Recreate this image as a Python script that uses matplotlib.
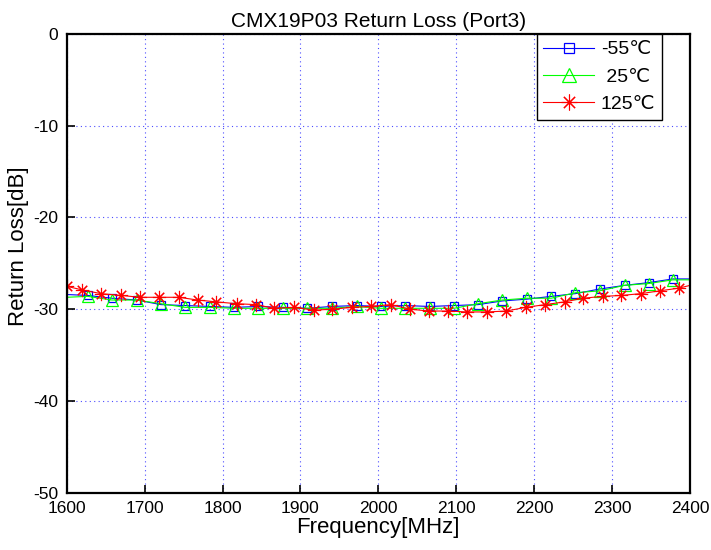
import matplotlib
matplotlib.use("Agg")
import matplotlib.pyplot as plt

plt.rcParams['font.family'] = ['Liberation Sans', 'DejaVu Sans']
plt.rcParams['axes.unicode_minus'] = False

title = "CMX19P03 Return Loss (Port3)"
xlabel = "Frequency[MHz]"
ylabel = "Return Loss[dB]"
legend_labels = ["-55\u2103", " 25\u2103", "125\u2103"]

# -55 C series (blue)
blue_freq = [1600, 1627, 1658, 1690, 1721, 1752, 1784, 1815, 1846, 1878, 1909, 1940,
             1972, 2003, 2034, 2066, 2097, 2128, 2159, 2191, 2222, 2253, 2284, 2316,
             2347, 2378, 2400]
blue_db = [-28.4, -28.5, -28.8, -29.0, -29.5, -29.6, -29.7, -29.8, -29.7, -29.8, -29.9, -29.7,
           -29.6, -29.7, -29.6, -29.7, -29.6, -29.5, -29.1, -28.9, -28.6, -28.3, -27.8, -27.4,
           -27.1, -26.7, -26.7]

# 25 C series (green)
green_freq = [1600, 1627, 1658, 1690, 1721, 1752, 1784, 1815, 1846, 1878, 1909, 1940,
              1972, 2003, 2034, 2066, 2097, 2128, 2159, 2191, 2222, 2253, 2284, 2316,
              2347, 2378, 2400]
green_db = [-28.7, -28.6, -29.0, -29.0, -29.4, -29.8, -29.8, -29.9, -29.9, -29.9, -29.9, -29.9,
            -29.7, -29.9, -29.9, -29.9, -29.9, -29.4, -29.0, -28.8, -28.8, -28.2, -28.0, -27.4,
            -27.2, -26.8, -26.8]

# 125 C series (red)
red_freq = [1600, 1620, 1644, 1670, 1694, 1719, 1744, 1768, 1792, 1818, 1843, 1866, 1892,
            1917, 1941, 1966, 1990, 2016, 2041, 2065, 2089, 2114, 2139, 2164, 2189, 2214,
            2239, 2263, 2288, 2312, 2337, 2361, 2386, 2400]
red_db = [-27.5, -27.9, -28.3, -28.5, -28.7, -28.7, -28.7, -29.0, -29.2, -29.4, -29.5, -29.9, -29.8,
          -30.1, -30.0, -29.8, -29.7, -29.5, -30.0, -30.2, -30.2, -30.3, -30.3, -30.2, -29.8, -29.5,
          -29.2, -28.8, -28.6, -28.5, -28.3, -28.0, -27.7, -27.4]

xticks = [1600, 1700, 1800, 1900, 2000, 2100, 2200, 2300, 2400]
yticks = [0, -10, -20, -30, -40, -50]

fig = plt.figure(figsize=(7.11, 5.5), dpi=100)
ax = fig.add_axes([0.0938, 0.1042, 0.8767, 0.8340])

ax.plot(blue_freq, blue_db, color=(0, 0, 1), lw=0.8, marker='s', ms=6,
        mfc='none', mew=0.9, markevery=slice(1, -1), label=legend_labels[0])
ax.plot(green_freq, green_db, color=(0, 1, 0), lw=0.8, marker='^', ms=8.5,
        mfc='none', mew=0.9, markevery=slice(1, -1), label=legend_labels[1])
ax.plot(red_freq, red_db, color=(1, 0, 0), lw=0.8, marker=(8, 2, 0), ms=9.5,
        mew=0.8, markevery=slice(0, -1), label=legend_labels[2])

ax.set_xlim(1600, 2400)
ax.set_ylim(-50, 0)
ax.set_xticks(xticks)
ax.set_yticks(yticks)
ax.tick_params(direction='in', length=6, width=1.2, labelsize=12.5, pad=6)
ax.grid(True, color=(0.3, 0.3, 1.0), linestyle=(0, (1, 3)), linewidth=0.8)
for s in ax.spines.values():
    s.set_linewidth(1.6)

ax.set_title(title, fontsize=15, pad=5)
ax.set_xlabel(xlabel, fontsize=16, labelpad=1)
ax.set_ylabel(ylabel, fontsize=16)
ax.yaxis.set_label_coords(-0.060, 0.538)

leg = ax.legend(loc='upper right', bbox_to_anchor=(0.955, 1.0), borderaxespad=0,
                fontsize=14, fancybox=False, edgecolor='black', framealpha=1,
                handlelength=2.6, handletextpad=0.35, labelspacing=0.5,
                borderpad=0.35, markerscale=1.2)
leg.get_frame().set_linewidth(1.0)

fig.savefig("out.png", dpi=100)
